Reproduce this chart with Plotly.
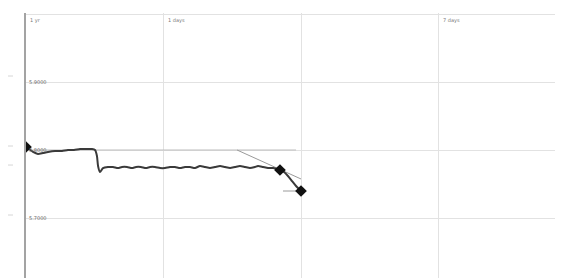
import plotly.graph_objects as go

# ---- data (x in grid units, y in price units) ----
x_vals = [0.0, 0.022, 0.051, 0.087, 0.124, 0.160, 0.211, 0.262, 0.305, 0.349,
          0.393, 0.436, 0.480, 0.502, 0.516, 0.524, 0.538, 0.560, 0.596, 0.633,
          0.669, 0.698, 0.735, 0.771, 0.800, 0.836, 0.873, 0.902, 0.938, 0.975,
          1.011, 1.047, 1.084, 1.120, 1.156, 1.193, 1.229, 1.265, 1.302, 1.338,
          1.375, 1.411, 1.447, 1.484, 1.520, 1.556, 1.593, 1.629, 1.665, 1.687,
          1.724, 1.760, 1.796, 1.825, 1.847, 1.876, 1.905, 1.935, 1.964, 2.0]
y_vals = [5.8044, 5.8015, 5.7971, 5.7941, 5.7956, 5.7971, 5.7985, 5.7985, 5.8000, 5.8000,
          5.8015, 5.8015, 5.8015, 5.8000, 5.7912, 5.7765, 5.7676, 5.7735, 5.7750, 5.7750,
          5.7735, 5.7750, 5.7750, 5.7735, 5.7750, 5.7750, 5.7735, 5.7750, 5.7750, 5.7735,
          5.7735, 5.7750, 5.7750, 5.7735, 5.7750, 5.7750, 5.7735, 5.7765, 5.7750, 5.7735,
          5.7750, 5.7765, 5.7750, 5.7735, 5.7750, 5.7765, 5.7750, 5.7735, 5.7750, 5.7765,
          5.7750, 5.7735, 5.7735, 5.7721, 5.7706, 5.7676, 5.7618, 5.7544, 5.7471, 5.7397]

marker_x = [0.0, 1.847, 2.0]
marker_y = [5.8044, 5.7706, 5.7397]

ref_level_x = [0.0, 1.964]
ref_level_y = [5.8, 5.8]
trend_x = [1.535, 2.0]
trend_y = [5.8, 5.7574]
target_x = [1.869, 2.0]
target_y = [5.7397, 5.7397]

left_ticks = [6.0088, 5.9088, 5.8059, 5.7779, 5.7044]

x_grid_labels = ["1 yr", "1 days", "", "7 days"]
y_grid_vals = [5.9, 5.8, 5.7]
y_grid_labels = ["5.9000", "5.8000", "5.7000"]

PLOT_W = 545.0

fig = go.Figure()
fig.add_trace(go.Scatter(x=ref_level_x, y=ref_level_y, mode="lines",
                         line=dict(color="#bdbdbd", width=1), hoverinfo="skip"))
fig.add_trace(go.Scatter(x=trend_x, y=trend_y, mode="lines",
                         line=dict(color="#9a9a9a", width=1), hoverinfo="skip"))
fig.add_trace(go.Scatter(x=target_x, y=target_y, mode="lines",
                         line=dict(color="#9a9a9a", width=1), hoverinfo="skip"))
fig.add_trace(go.Scatter(x=x_vals, y=y_vals, mode="lines",
                         line=dict(color="#3a3a3a", width=2, shape="spline", smoothing=0.6)))
fig.add_trace(go.Scatter(x=marker_x, y=marker_y, mode="markers",
                         marker=dict(symbol="diamond", size=9, color="#111111")))

for v in left_ticks:
    fig.add_shape(type="line", xref="paper", yref="y",
                  x0=-26/PLOT_W, x1=-13/PLOT_W, y0=v, y1=v,
                  line=dict(color="#d6d6d6", width=1))

for i, t in enumerate(x_grid_labels):
    if t:
        fig.add_annotation(x=i, y=6.0, xref="x", yref="y", text=t, showarrow=False,
                           xanchor="left", yanchor="top", xshift=2, yshift=-1,
                           font=dict(size=5, color="#777777", family="DejaVu Sans"))
for v, t in zip(y_grid_vals, y_grid_labels):
    fig.add_annotation(x=0, y=v, xref="x", yref="y", text=t, showarrow=False,
                       xanchor="left", yanchor="middle", xshift=1,
                       font=dict(size=5, color="#666666", family="DejaVu Sans"))

fig.update_layout(
    width=563, height=278,
    margin=dict(l=18, r=0, t=5, b=0),
    paper_bgcolor="white", plot_bgcolor="white",
    showlegend=False,
    xaxis=dict(range=[0, PLOT_W / 137.5], tick0=0, dtick=1, showgrid=True,
               gridcolor="#e2e2e2", gridwidth=1, zeroline=False,
               showticklabels=False, ticks="", fixedrange=True),
    yaxis=dict(range=[5.6, 6.0015], tick0=5.6, dtick=0.1, showgrid=True,
               gridcolor="#e2e2e2", gridwidth=1, zeroline=False,
               showticklabels=False, ticks="", showline=True,
               linecolor="#a3a3a3", linewidth=1.5, fixedrange=True),
)

fig.write_html("out.html")
